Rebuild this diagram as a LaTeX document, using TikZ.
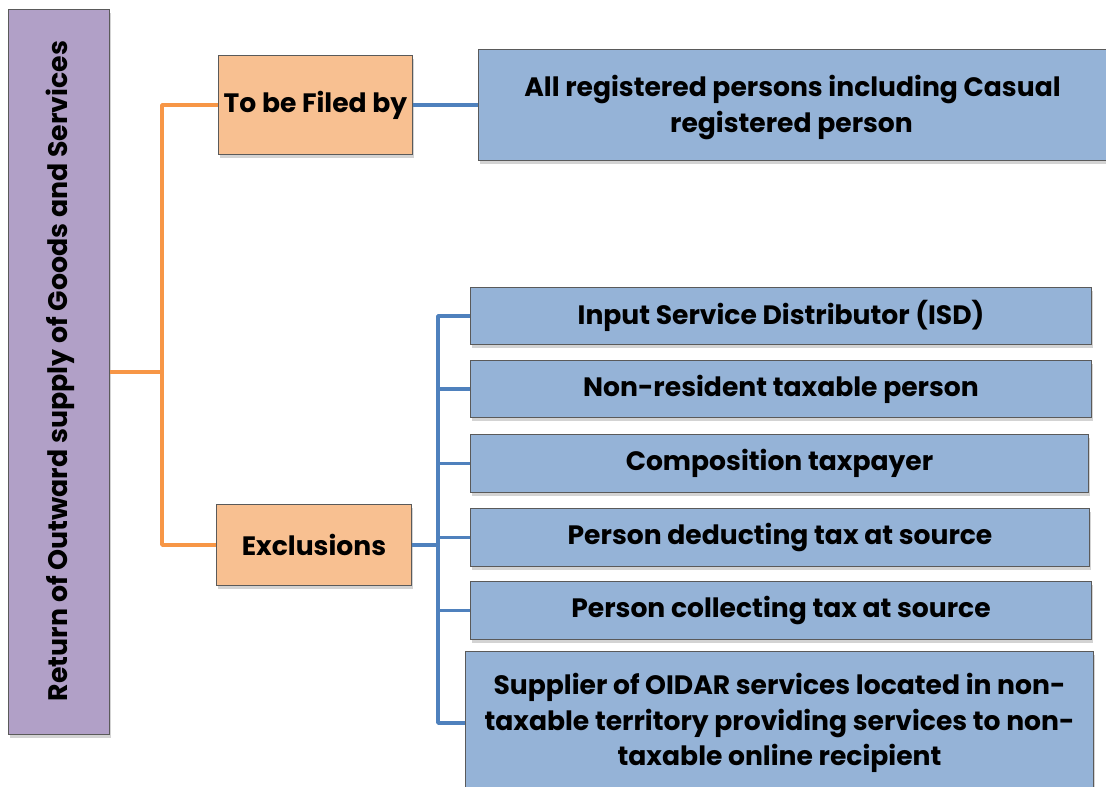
\documentclass[tikz,border=0pt]{standalone}
\usepackage{fontspec}
\setmainfont{Poppins}[BoldFont={Poppins Bold}]
\usetikzlibrary{shadows,positioning}
\definecolor{purp}{HTML}{B1A0C7}
\definecolor{oran}{HTML}{F8C091}
\definecolor{lblue}{HTML}{95B3D7}
\definecolor{oline}{HTML}{F79646}
\definecolor{bline}{HTML}{4F81BD}
\definecolor{bord}{HTML}{5A5A5A}
\tikzset{
  box/.style={draw=bord, line width=1pt, anchor=north west, align=center, inner sep=0pt,
    font=\bfseries\fontsize{26.6}{36}\selectfont,
    drop shadow={opacity=0.35, shadow xshift=1.5pt, shadow yshift=-3pt}},
  olink/.style={draw=oline, line width=3.8pt},
  blink/.style={draw=bline, line width=3.8pt},
}
\begin{document}
\begin{tikzpicture}[x=1pt,y=-1pt]
\useasboundingbox (0,0) rectangle (1106,787);
\node[box, fill=purp, minimum width=101pt, minimum height=725pt] (ret) at (8,9) {};
\node[rotate=90, font=\bfseries\fontsize{26.8}{30}\selectfont] (rettext) at (60,371) {Return of Outward supply of Goods and Services};
\node[box, fill=oran, minimum width=194pt, minimum height=99pt] (tbf) at (218,55) {To be Filed by};
\node[box, fill=lblue, minimum width=630pt, minimum height=111pt] (all) at (478,49) {};
\node[align=center, inner sep=0pt, font=\bfseries\fontsize{26.6}{36}\selectfont, yshift=-3pt] (alltext) at (all.center) {\hspace*{-2pt}All registered persons including Casual\\registered person\hspace*{4pt}};
\node[box, fill=oran, minimum width=195pt, minimum height=81pt] (exc) at (216,504) {Exclusions};
\node[box, fill=lblue, minimum width=621pt, minimum height=57pt] (b1) at (470,287) {Input Service Distributor (ISD)};
\node[box, fill=lblue, minimum width=621pt, minimum height=57pt] (b2) at (470,360) {Non-resident taxable person};
\node[box, fill=lblue, minimum width=618pt, minimum height=58pt] (b3) at (470,434) {Composition taxpayer};
\node[box, fill=lblue, minimum width=619pt, minimum height=58pt] (b4) at (470,508) {Person deducting tax at source};
\node[box, fill=lblue, minimum width=621pt, minimum height=58pt] (b5) at (470,581) {Person collecting tax at source};
\node[box, fill=lblue, minimum width=628pt, minimum height=143pt, font=\bfseries\fontsize{26.6}{35.5}\selectfont] (b6) at (465,651) {Supplier of OIDAR services located in non-\\taxable territory providing services to non-\\taxable online recipient};
\coordinate (oj) at (162,372);
\coordinate (bj) at (438,545);
\draw[olink] (ret.east) -- (oj);
\draw[olink, line join=round] (tbf.west) -- (tbf.west -| oj) -- (exc.west -| oj) -- (exc.west);
\draw[blink] (tbf.east) -- (tbf.east -| all.west);
\draw[blink] (exc.east) -- (exc.east -| bj);
\draw[blink, line join=round] (b1.west) -- (b1.west -| bj) -- (b6.west -| bj) -- (b6.west);
\foreach \b in {b2,b3,b4,b5} \draw[blink] (\b.west -| bj) -- (\b.west);
\end{tikzpicture}
\end{document}
